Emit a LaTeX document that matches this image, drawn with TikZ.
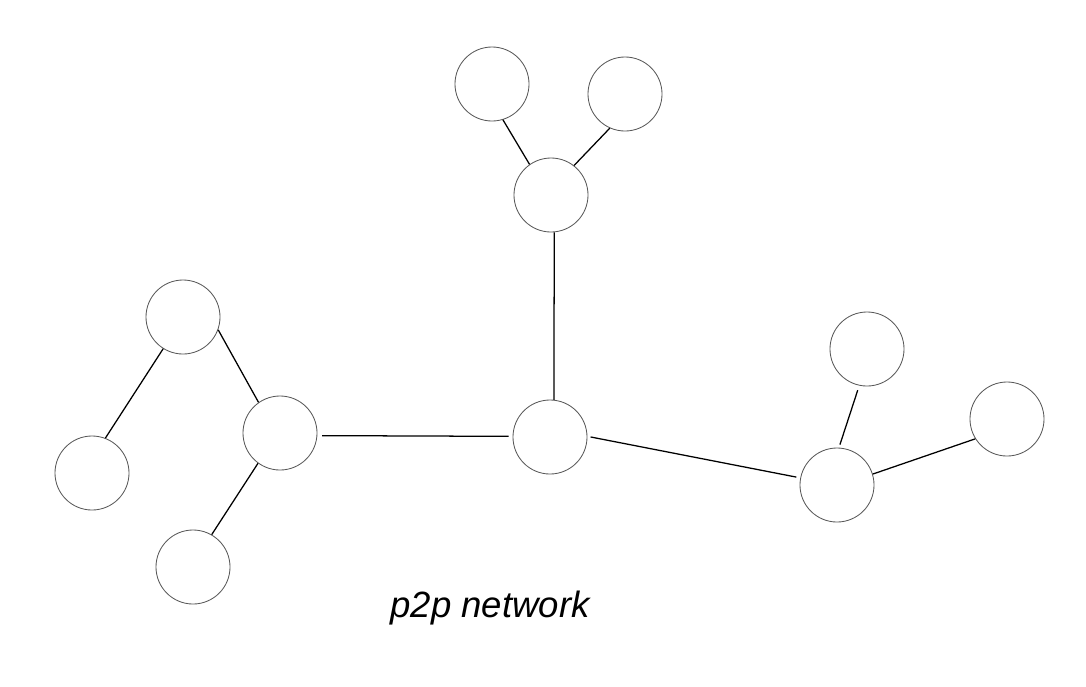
\documentclass[tikz,border=0pt]{standalone}
\usepackage{fontspec}
\setsansfont{Liberation Sans}
\usepackage{tikz}
\usetikzlibrary{positioning}
\tikzstyle{peer} = [
    circle, draw,
    draw=black!65,
    line width=0.6pt,
    inner sep=0pt,
    minimum size=1.85cm
]
\tikzstyle{link} = [
    line width=0.9pt,
    draw=black
]

\begin{document}
\begin{tikzpicture}[
        x=0.025cm, y=-0.025cm
    ]
    \useasboundingbox (0,0) rectangle (1086,686);
    % peers
    \node[peer] (topleft)   at (492,84)   {};
    \node[peer] (topright)  at (625,94)   {};
    \node[peer] (upper)     at (551,195)  {};
    \node[peer] (center)    at (550,437)  {};
    \node[peer] (lefthub)   at (280,433)  {};
    \node[peer] (leftup)    at (183,317)  {};
    \node[peer] (farleft)   at (92,473)   {};
    \node[peer] (leftdown)  at (193,567)  {};
    \node[peer] (righthub)  at (837,485)  {};
    \node[peer] (rightup)   at (867,349)  {};
    \node[peer] (farright)  at (1007,419) {};
    % links
    \draw[link] (topleft.-73) -- (upper.125);
    \draw[link] (topright.246) -- (upper.52);
    \draw[link] (upper.-85) -- (center.84);
    \draw[link, shorten <=0.12cm, shorten >=0.1cm] (lefthub.-4) -- (center.179);
    \draw[link, shorten <=0.08cm, shorten >=0.1cm] (center.1) -- (righthub.169);
    \draw[link] (leftup.-20) -- (lefthub.125);
    \draw[link] (leftup.238) -- (farleft.69);
    \draw[link] (lefthub.234) -- (leftdown.60);
    \draw[link, shorten <=0.12cm, shorten >=0.08cm] (rightup.258) -- (righthub.87);
    \draw[link] (righthub.17) -- (farright.212);
    % caption
    \node[anchor=base, font=\fontsize{26}{30}\selectfont\sffamily\itshape]
        (caption) at (490,617) {p2p network};
\end{tikzpicture}
\end{document}
